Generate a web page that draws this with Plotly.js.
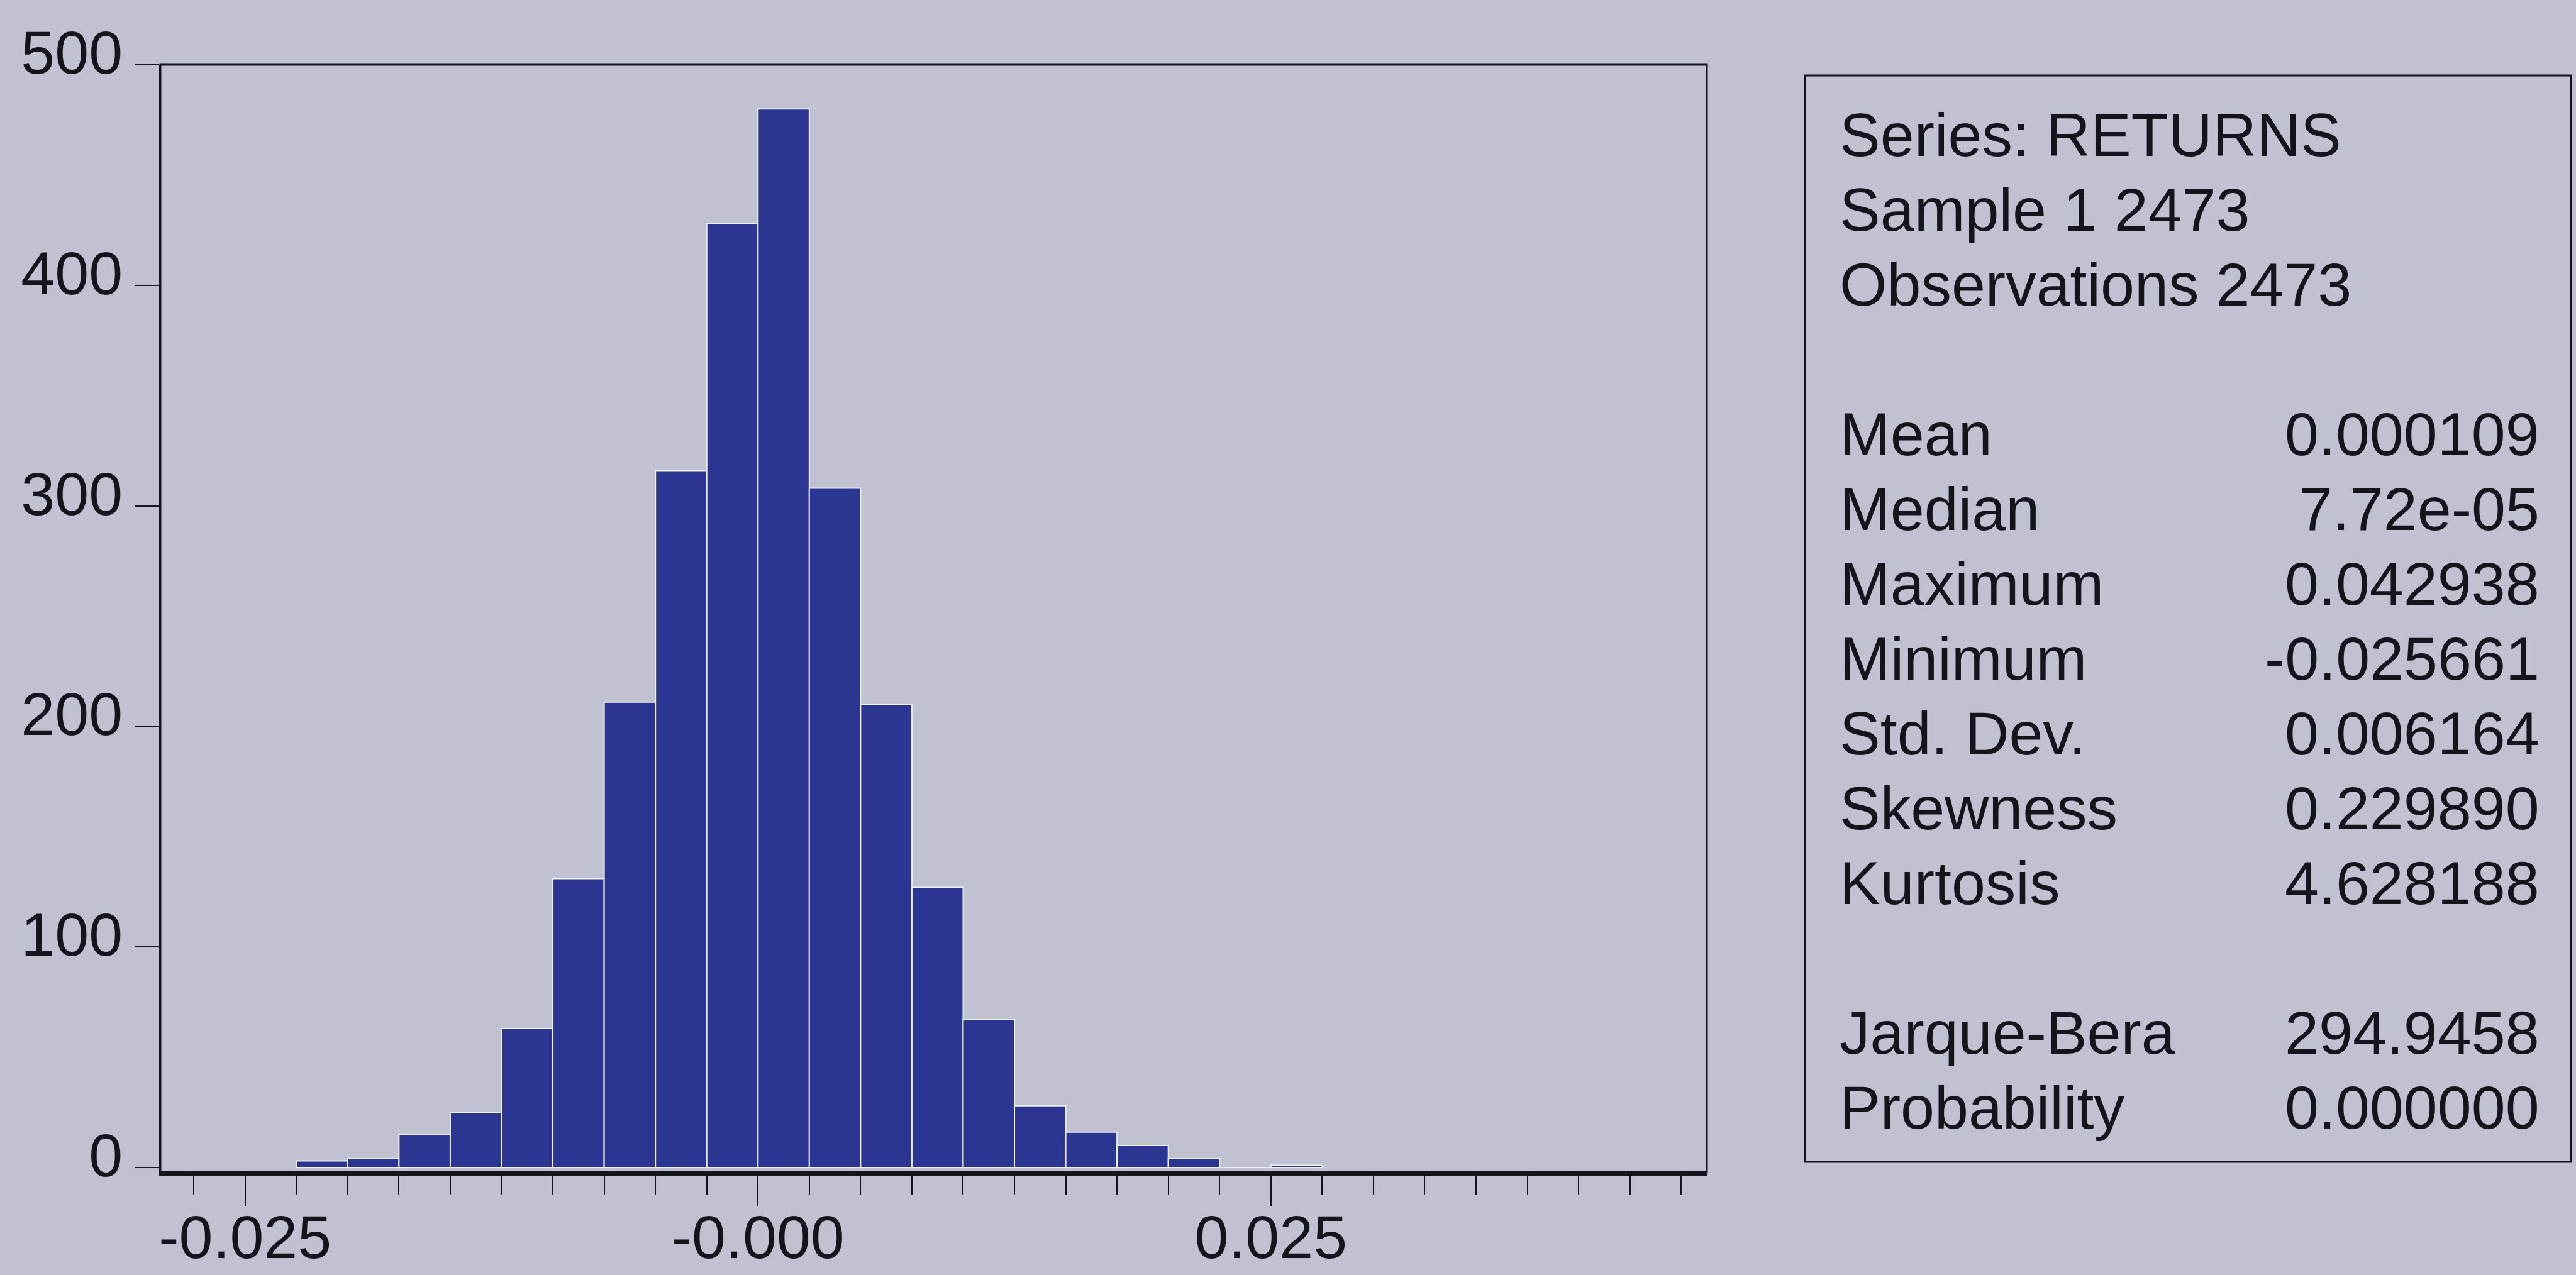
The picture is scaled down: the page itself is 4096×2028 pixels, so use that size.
<!DOCTYPE html>
<html>
<head>
<meta charset="utf-8">
<script src="https://cdn.plot.ly/plotly-3.0.1.min.js"></script>
<style>
  html, body { margin: 0; padding: 0; background: #c1c2d1; }
  #chart { width: 4096px; height: 2028px; }
</style>
</head>
<body>
<div id="chart"></div>
<script>
// ---- data ----
const binWidth = 0.0025;
const binLeftEdges = [-0.0225, -0.02, -0.0175, -0.015, -0.0125, -0.01, -0.0075, -0.005, -0.0025, 0.0,
                      0.0025, 0.005, 0.0075, 0.01, 0.0125, 0.015, 0.0175, 0.02, 0.0225, 0.025];
const counts = [3, 4, 15, 25, 63, 131, 211, 316, 428, 480,
                308, 210, 127, 67, 28, 16, 10, 4, 0, 1];

const xTickVals = [-0.025, 0, 0.025];
const xTickText = ['-0.025', '-0.000', '0.025'];
const yTickVals = [0, 100, 200, 300, 400, 500];

const headerLines = ['Series: RETURNS', 'Sample 1 2473', 'Observations 2473'];
const statLabels = ['Mean', 'Median', 'Maximum', 'Minimum', 'Std. Dev.', 'Skewness', 'Kurtosis'];
const statValues = ['0.000109', '7.72e-05', '0.042938', '-0.025661', '0.006164', '0.229890', '4.628188'];
const testLabels = ['Jarque-Bera', 'Probability'];
const testValues = ['294.9458', '0.000000'];

// ---- layout geometry (pixels in the 4096x2028 window) ----
const W = 4096, H = 2028;
const L = 255, R = 2714, T = 103, B = 1864;
const px2x = px => (px - L) / (R - L);
const py2y = py => (B - py) / (B - T);

const FONT = 'Liberation Sans, Arial, Helvetica, sans-serif';
const INK = '#14141c';
const BG = '#c1c2d1';
const BAR = '#2b3592';
const FS = 97;

const xCenters = binLeftEdges.map(e => e + binWidth / 2);

const trace = {
  type: 'bar',
  x: xCenters,
  y: counts,
  width: binWidth,
  marker: { color: BAR, line: { color: '#eef0f4', width: 2 } },
  hoverinfo: 'skip'
};

const annotations = [];
const rowY0 = 214, rowPitch = 119;
const labelX = px2x(2923), valueX = px2x(4040);
function addRow(i, label, value) {
  const yy = py2y(rowY0 + rowPitch * i);
  annotations.push({ xref: 'paper', yref: 'paper', x: labelX, y: yy, xanchor: 'left', yanchor: 'middle',
    text: label, showarrow: false, font: { family: FONT, size: FS, color: INK } });
  if (value !== null) {
    annotations.push({ xref: 'paper', yref: 'paper', x: valueX, y: yy, xanchor: 'right', yanchor: 'middle',
      text: value, showarrow: false, font: { family: FONT, size: FS, color: INK } });
  }
}
headerLines.forEach((t, i) => addRow(i, t, null));
statLabels.forEach((t, i) => addRow(4 + i, t, statValues[i]));
testLabels.forEach((t, i) => addRow(12 + i, t, testValues[i]));

const layout = {
  width: W, height: H,
  paper_bgcolor: BG, plot_bgcolor: BG,
  margin: { l: L, r: W - R, t: T, b: H - B, pad: 0 },
  showlegend: false,
  bargap: 0,
  font: { family: FONT, color: INK, size: FS },
  xaxis: {
    range: [-0.02913, 0.04625],
    tickmode: 'array', tickvals: xTickVals, ticktext: xTickText,
    ticks: 'outside', ticklen: 48, tickwidth: 2, tickcolor: INK,
    minor: { tickmode: 'linear', tick0: 0, dtick: binWidth, ticks: 'outside', ticklen: 30, tickwidth: 2, tickcolor: INK, showgrid: false },
    showgrid: false, zeroline: false,
    showline: true, linewidth: 6, linecolor: INK,
    tickfont: { family: FONT, size: FS, color: INK },
    ticklabelstandoff: -33
  },
  yaxis: {
    range: [-2, 500],
    tickmode: 'array', tickvals: yTickVals,
    ticks: 'outside', ticklen: 38, tickwidth: 2.5, tickcolor: INK,
    showgrid: false, zeroline: false,
    showline: true, linewidth: 2.5, linecolor: INK,
    tickfont: { family: FONT, size: FS, color: INK },
    ticklabelshift: -20,
    ticklabelstandoff: 0
  },
  shapes: [
    { type: 'rect', xref: 'paper', yref: 'paper', x0: 0, x1: 1, y0: 0, y1: 1,
      line: { color: INK, width: 3 }, fillcolor: 'rgba(0,0,0,0)' },
    { type: 'rect', xref: 'paper', yref: 'paper', x0: px2x(2870), x1: px2x(4088), y0: py2y(1848), y1: py2y(120),
      line: { color: INK, width: 3 }, fillcolor: 'rgba(0,0,0,0)' }
  ],
  annotations: annotations
};

Plotly.newPlot('chart', [trace], layout, { staticPlot: true, displayModeBar: false });
</script>
</body>
</html>
